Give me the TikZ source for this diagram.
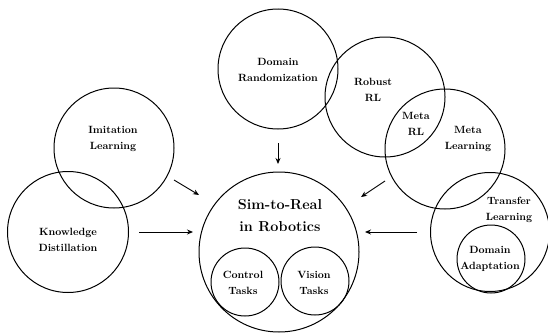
\documentclass[tikz,border=0pt]{standalone}
\usetikzlibrary{arrows.meta}
\begin{document}
\begin{tikzpicture}[x=1pt,y=-1pt,
  ring/.style={circle,draw,line width=1pt,inner sep=0pt,minimum size=#1},
  lbl/.style={align=center,font=\fontsize{10.5}{15.5}\selectfont\bfseries,inner sep=0pt},
  biglbl/.style={align=center,font=\fontsize{14.4}{22}\selectfont\bfseries,inner sep=0pt},
  arr/.style={-{Stealth[length=6pt,width=5pt]},line width=0.9pt}]
\useasboundingbox (0,0) rectangle (548,332);
% circles
\node[ring=120pt] (dr) at (278,69) {};
\node[ring=120pt] (rrl) at (385,97) {};
\node[ring=120pt] (ml) at (445,149) {};
\node[ring=119pt] (tl) at (490,232) {};
\node[ring=68pt] (da) at (491,259) {};
\node[ring=120pt] (il) at (114,148) {};
\node[ring=121pt] (kd) at (68,232) {};
\node[ring=160pt] (s2r) at (279,252) {};
\node[ring=68pt] (ct) at (245,282) {};
\node[ring=68pt] (vt) at (315,281) {};
% labels
\node[lbl] (drl) at (278,70) {Domain\\Randomization};
\node[lbl] (rrll) at (373,90) {Robust\\RL};
\node[lbl] (mrl) at (416,124) {Meta\\RL};
\node[lbl] (mll) at (468,139) {Meta\\Learning};
\node[lbl] (tll) at (509,210) {Transfer\\Learning};
\node[lbl] (dal) at (490,259) {Domain\\Adaptation};
\node[lbl] (ill) at (113,139) {Imitation\\Learning};
\node[lbl] (kdl) at (68,240) {Knowledge\\Distillation};
\node[biglbl] (s2rl) at (280,216) {Sim-to-Real\\in Robotics};
\node[lbl] (ctl) at (243,283) {Control\\Tasks};
\node[lbl] (vtl) at (314,283) {Vision\\Tasks};
% arrow endpoints
\coordinate (a1s) at (278,143); \coordinate (a1e) at (278,164);
\coordinate (a2s) at (174,180); \coordinate (a2e) at (199,195);
\coordinate (a3s) at (139,232); \coordinate (a3e) at (193,232);
\coordinate (a4s) at (385,181); \coordinate (a4e) at (361,197);
\coordinate (a5s) at (417,232); \coordinate (a5e) at (365,232);
\draw[arr] (a1s) -- (a1e);
\draw[arr] (a2s) -- (a2e);
\draw[arr] (a3s) -- (a3e);
\draw[arr] (a4s) -- (a4e);
\draw[arr] (a5s) -- (a5e);
\end{tikzpicture}
\end{document}
